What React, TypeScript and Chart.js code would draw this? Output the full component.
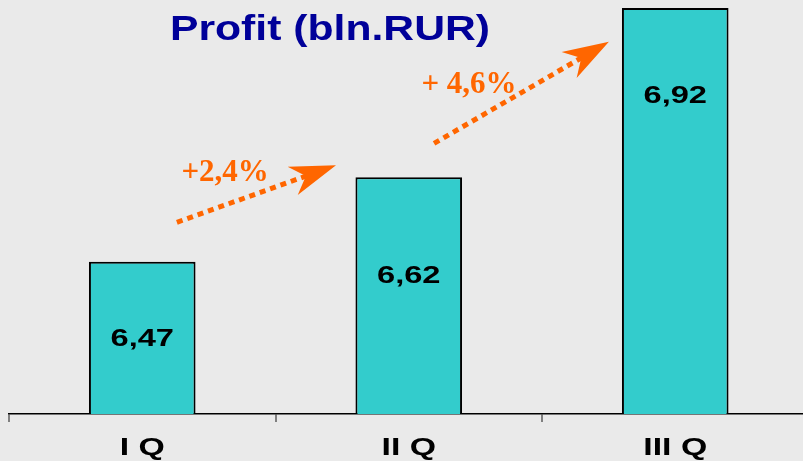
import React, { useEffect, useRef } from "react";
import { Chart, registerables } from "chart.js";

Chart.register(...registerables);

const categories = ["I Q", "II Q", "III Q"];
const profit = [6.47, 6.62, 6.92];
const valueLabels = ["6,47", "6,62", "6,92"];
// vertical placement of value labels (in axis units)
const valueLabelY = [6.333, 6.4436, 6.7627];
const growthLabels = ["+2,4%", "+ 4,6%"];
// growth arrows: [xStart, yStart, xEnd, yEnd] in category index / axis units
const growthArrows = [
  [0.13, 6.54, 0.727, 6.641],
  [1.095, 6.68, 1.751, 6.86],
];
const growthLabelPos = [
  [0.311, 6.628],
  [1.226, 6.783],
];
const chartTitle = "Profit (bln.RUR)";

const CANVAS_W = 820;
const CANVAS_H = 461;

function stretchText(ctx: CanvasRenderingContext2D, text: string, x: number, y: number, sx: number) {
  ctx.save();
  ctx.translate(x, y);
  ctx.scale(sx, 1);
  ctx.fillText(text, 0, 0);
  ctx.restore();
}

const overlayPlugin = {
  id: "overlay",
  afterDatasetsDraw(chart: any) {
    const ctx: CanvasRenderingContext2D = chart.ctx;
    const xs = chart.scales.x;
    const ys = chart.scales.y;
    const area = chart.chartArea;

    // value labels inside bars
    ctx.save();
    ctx.fillStyle = "#000000";
    ctx.textAlign = "center";
    ctx.textBaseline = "middle";
    ctx.font = "bold 24px 'Liberation Sans', Arial, sans-serif";
    valueLabels.forEach((t, i) => {
      stretchText(ctx, t, xs.getPixelForValue(i), ys.getPixelForValue(valueLabelY[i]), 1.36);
    });
    ctx.restore();

    // category labels
    ctx.save();
    ctx.fillStyle = "#000000";
    ctx.textAlign = "center";
    ctx.textBaseline = "alphabetic";
    ctx.font = "bold 23px 'Liberation Sans', Arial, sans-serif";
    categories.forEach((t, i) => {
      stretchText(ctx, t, xs.getPixelForValue(i), area.bottom + 41, 1.47);
    });
    ctx.restore();

    // title
    ctx.save();
    ctx.fillStyle = "#000099";
    ctx.textAlign = "center";
    ctx.textBaseline = "alphabetic";
    ctx.font = "bold 35px 'Liberation Sans', Arial, sans-serif";
    stretchText(ctx, chartTitle, area.left + 321, area.top + 32, 1.22);
    ctx.restore();

    // growth arrows
    const orange = "#FF6600";
    growthArrows.forEach((a) => {
      const x0 = xs.getPixelForValue(a[0]);
      const y0 = ys.getPixelForValue(a[1]);
      const x1 = xs.getPixelForValue(a[2]);
      const y1 = ys.getPixelForValue(a[3]);
      const len = Math.hypot(x1 - x0, y1 - y0);
      const ux = (x1 - x0) / len;
      const uy = (y1 - y0) / len;
      const nx = -uy;
      const ny = ux;
      const headLen = 46;
      const notch = 32;
      const half = 15;
      ctx.save();
      ctx.strokeStyle = orange;
      ctx.lineWidth = 5;
      ctx.lineCap = "butt";
      ctx.setLineDash([6, 5]);
      ctx.beginPath();
      ctx.moveTo(x0, y0);
      ctx.lineTo(x1 - ux * (notch - 2), y1 - uy * (notch - 2));
      ctx.stroke();
      ctx.setLineDash([]);
      ctx.fillStyle = orange;
      ctx.beginPath();
      ctx.moveTo(x1, y1);
      ctx.lineTo(x1 - ux * headLen + nx * half, y1 - uy * headLen + ny * half);
      ctx.lineTo(x1 - ux * notch, y1 - uy * notch);
      ctx.lineTo(x1 - ux * headLen - nx * half, y1 - uy * headLen - ny * half);
      ctx.closePath();
      ctx.fill();
      ctx.restore();
    });

    // growth labels
    ctx.save();
    ctx.fillStyle = orange;
    ctx.textAlign = "center";
    ctx.textBaseline = "middle";
    ctx.font = "bold 31px 'Liberation Serif', 'Times New Roman', serif";
    growthLabels.forEach((t, i) => {
      ctx.fillText(t, xs.getPixelForValue(growthLabelPos[i][0]), ys.getPixelForValue(growthLabelPos[i][1]));
    });
    ctx.restore();
  },
};

const bgPlugin = {
  id: "bg",
  beforeDraw(chart: any) {
    const ctx = chart.ctx;
    ctx.save();
    ctx.fillStyle = "#EAEAEA";
    ctx.fillRect(0, 0, chart.width, chart.height);
    ctx.restore();
  },
};

export default function App() {
  const ref = useRef<HTMLCanvasElement | null>(null);

  useEffect(() => {
    if (!ref.current) return;
    const chart = new Chart(ref.current, {
      type: "bar",
      data: {
        labels: categories,
        datasets: [
          {
            data: profit,
            backgroundColor: "#33CCCC",
            borderColor: "#000000",
            borderWidth: 2,
            borderSkipped: "start",
            categoryPercentage: 1,
            barPercentage: 0.4,
            clip: { left: 5, right: 5, top: 5, bottom: 0 },
          } as any,
        ],
      },
      options: {
        responsive: false,
        animation: false,
        devicePixelRatio: 1,
        layout: { padding: { left: 9, right: 11.5, top: 8, bottom: 39 } },
        plugins: {
          legend: { display: false },
          title: { display: false },
          tooltip: { enabled: false },
        },
        scales: {
          x: {
            grid: {
              display: true,
              drawOnChartArea: false,
              drawTicks: true,
              tickLength: 8,
              color: "#808080",
              lineWidth: 2,
              offset: true,
            },
            border: { display: true, color: "#000000", width: 1.5 },
            ticks: { display: false },
          },
          y: {
            display: false,
            min: 6.2,
            max: 6.92,
          },
        },
      },
      plugins: [bgPlugin, overlayPlugin],
    });
    return () => chart.destroy();
  }, []);

  return (
    <div
      style={{
        position: "fixed",
        left: 0,
        top: 0,
        width: 803,
        height: 461,
        overflow: "hidden",
        background: "#EAEAEA",
      }}
    >
      <canvas ref={ref} width={CANVAS_W} height={CANVAS_H} style={{ width: CANVAS_W, height: CANVAS_H, display: "block" }} />
    </div>
  );
}
